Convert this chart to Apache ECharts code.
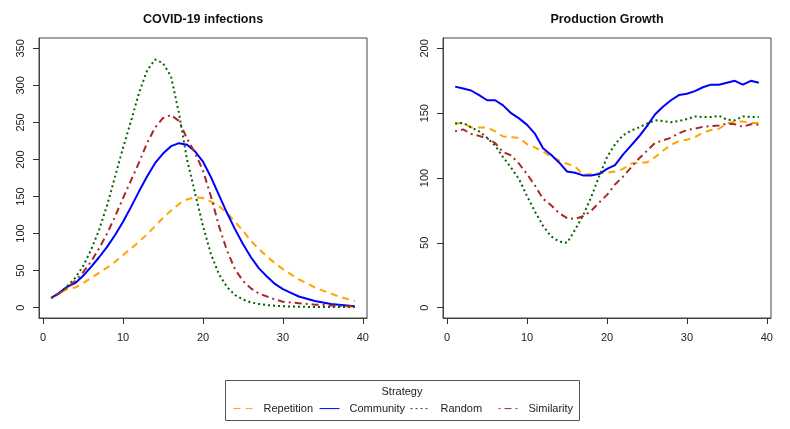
<!DOCTYPE html>
<html>
<head>
<meta charset="utf-8">
<script src="https://cdn.jsdelivr.net/npm/echarts@6/dist/echarts.min.js"></script>
<style>
html,body{margin:0;padding:0;background:#fff;}
#chart{width:790px;height:429px;}
</style>
</head>
<body>
<div id="chart"></div>
<script>
// ---- data ----
const days = [1,2,3,4,5,6,7,8,9,10,11,12,13,14,15,16,17,18,19,20,21,22,23,24,25,26,27,28,29,30,31,32,33,34,35,36,37,38,39];
const seriesNames = ['Repetition','Community','Random','Similarity'];

const infRepetition = [13,19,25,27,33,40,47,54,62,71,80,89,99,110,121,131,140,146,149,148,143,137,128,116,104,90,79,69,60,52,45,38,33,27,23,19,15,12,9];
const infCommunity  = [13,20,28,33,43,55,68,82,98,116,136,157,177,195,208,218,222,220,211,197,176,152,128,106,86,68,53,42,32,25,20,15,12,9,7,5,4,3,2];
const infRandom     = [13,19,29,40,56,78,105,138,177,216,252,290,320,335,330,312,262,200,155,110,72,45,28,17,11,7,5,3.5,2.5,2,1.5,1.2,1,1,1,1,1,1,1];
const infSimilarity = [13,19,27,36,48,62,80,100,123,148,172,196,222,243,256,260,252,228,209,185,150,110,77,52,36,26,19,15,11,8,7,6,5,4,3.5,3,2.5,2,2];

const prodRepetition = [142,142.5,139,139,139,136,132,131.5,131,126,123.5,120.5,116.5,113.5,111,109,102.5,103,103.5,104,105,107,111,112,112,116,121,125.5,128.5,129.5,131.5,135,137,138,142,143.5,143.5,142.5,142.5];
const prodCommunity  = [170.5,169,167.5,164,160,160,156,150,146,141,134,123,118,112,105,104,102,102,103,107,110,118,125,132,140,149,155,160,164,165,167,170,172,172,173.5,175,172,175,173.5];
const prodRandom     = [142,142.5,139,136,131,125,116,108,99,86,74,63,55,51,50,60,71,85,101,116,126,133,136.5,139,142,144.5,144,143,144,145.5,147.5,147,147,148,145,144.5,147.5,147,147];
const prodSimilarity = [136,137.5,134,132.5,130.5,127,120,117.5,111,103,94,84,79,73,69,68.5,70.5,74.5,81,87,95,101,108,115,121,127,129,131,134.5,137,138,139.5,140,140.5,142,141.5,139.5,141.5,141];

const xTicks = [0,10,20,30,40];
const infTicks = [0,50,100,150,200,250,300,350];
const prodTicks = [0,50,100,150,200];

// ---- styles ----
const colors = {Repetition:'#FFA500', Community:'#0000FF', Random:'#006400', Similarity:'#A52A2A'};
const dashes = {Repetition:[7,5], Community:'solid', Random:[2,3], Similarity:[2,4,7,4]};
const FONT = '"Liberation Sans", Arial, sans-serif';
const TXT = '#222';

function pairs(arr){ return days.map((d,i)=>[d, arr[i]]); }

function mkSeries(name, arr, idx){
  return {
    name: name, type:'line', xAxisIndex: idx, yAxisIndex: idx,
    data: pairs(arr), symbol:'none', showSymbol:false, smooth:false,
    lineStyle:{color: colors[name], width:2, type: dashes[name]},
    itemStyle:{color: colors[name]},
    emphasis:{disabled:true}, animation:false, z: 3
  };
}

function xAxis(idx){
  return {
    type:'value', gridIndex: idx, min:-0.52, max:40.52,
    axisLine:{show:true, onZero:false, lineStyle:{color:'#444', width:1}},
    splitLine:{show:false},
    axisTick:{show:true, inside:false, length:6, customValues:xTicks, lineStyle:{color:'#333', width:1}},
    axisLabel:{show:true, customValues:xTicks, margin:14, color:TXT, fontSize:11, fontFamily:FONT}
  };
}
function yAxis(idx, min, max, ticks){
  return {
    type:'value', gridIndex: idx, min:min, max:max,
    axisLine:{show:true, onZero:false, lineStyle:{color:'#444', width:1}},
    splitLine:{show:false},
    axisTick:{show:true, inside:false, length:6, customValues:ticks, lineStyle:{color:'#333', width:1}},
    axisLabel:{show:true, customValues:ticks, rotate:90, margin:13, color:TXT, fontSize:11, fontFamily:FONT}
  };
}

const legendLefts = [233, 319, 410, 498];

const option = {
  backgroundColor:'#fff',
  animation:false,
  title:[
    {text:'COVID-19 infections', left:203, top:13, textAlign:'center', padding:0,
     textStyle:{fontSize:12.5, fontWeight:'bold', color:'#111', fontFamily:FONT}},
    {text:'Production Growth', left:607, top:13, textAlign:'center', padding:0,
     textStyle:{fontSize:12.5, fontWeight:'bold', color:'#111', fontFamily:FONT}}
  ],
  grid:[
    {left:39, top:38, width:328, height:280, show:true, borderColor:'#444', borderWidth:1, backgroundColor:'transparent'},
    {left:443, top:38, width:328, height:280, show:true, borderColor:'#444', borderWidth:1, backgroundColor:'transparent'}
  ],
  xAxis:[xAxis(0), xAxis(1)],
  yAxis:[yAxis(0,-14,364,infTicks), yAxis(1,-8,208,prodTicks)],
  legend: seriesNames.map((n,i)=>({
    data:[n], left: legendLefts[i], top:403, padding:0,
    itemWidth:20, itemHeight:14, selectedMode:false,
    itemStyle:{opacity:0},
    lineStyle:{width:1},
    textStyle:{fontSize:11, color:TXT, fontFamily:FONT, padding:[0,0,0,5]}
  })),
  graphic:[
    {type:'rect', shape:{x:225.5, y:380.5, width:354, height:40},
     style:{fill:'none', stroke:'#555', lineWidth:1}, silent:true},
    {type:'text', x:402, y:392, style:{text:'Strategy', fill:TXT, font:'11px "Liberation Sans", Arial, sans-serif', textAlign:'center', textVerticalAlign:'middle'}, silent:true}
  ],
  series:[
    mkSeries('Repetition', infRepetition, 0),
    mkSeries('Community', infCommunity, 0),
    mkSeries('Random', infRandom, 0),
    mkSeries('Similarity', infSimilarity, 0),
    mkSeries('Repetition', prodRepetition, 1),
    mkSeries('Community', prodCommunity, 1),
    mkSeries('Random', prodRandom, 1),
    mkSeries('Similarity', prodSimilarity, 1)
  ]
};

const chart = echarts.init(document.getElementById('chart'), null, {renderer:'canvas'});
chart.setOption(option);
</script>
</body>
</html>
